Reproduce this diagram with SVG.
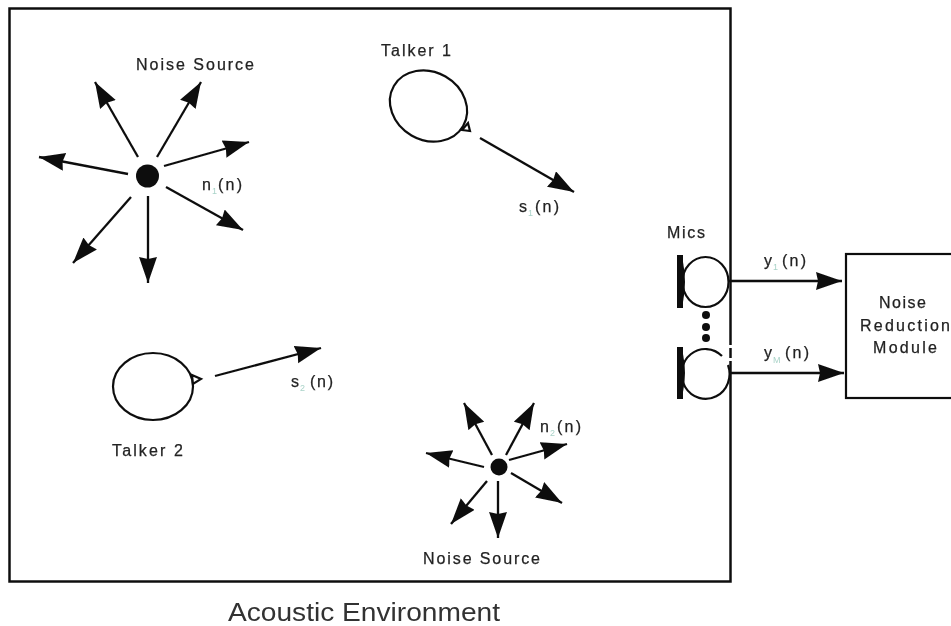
<svg xmlns="http://www.w3.org/2000/svg" width="951" height="626" viewBox="0 0 951 626">
<style>
text{font-family:"Liberation Sans",Arial,sans-serif;fill:#222;font-size:16px;stroke:#222;stroke-width:.25}
.sub{font-size:9px;fill:#a9d3c8;stroke:none}
.big{font-size:26px;fill:#333;stroke:none}
.ln{fill:none;stroke:#111;stroke-width:2.2}
.shape{fill:#fff;stroke:#111;stroke-width:2.2}
.arr{fill:none;stroke:#111;stroke-width:2.3;marker-end:url(#ah)}
.solid{fill:#111;stroke:none}
</style>
<defs>
<marker id="ah" markerUnits="userSpaceOnUse" markerWidth="30" markerHeight="22" refX="26" refY="9" orient="auto"><path d="M0 0L26 9L0 18L2 9Z" fill="#111"/></marker>
<filter id="soft" x="-2%" y="-2%" width="104%" height="104%"><feGaussianBlur stdDeviation="0.5"/></filter>
</defs>
<rect width="951" height="626" fill="#fff"/>
<g filter="url(#soft)">
<g id="environment">
<rect x="9.500" y="8.500" width="721" height="573" fill="none" stroke="#111" stroke-width="2.500"/>
<path d="M731 345v3M731 358v3" stroke="#fff" stroke-width="4" fill="none"/>
<text class="big" x="228" y="620.500" textLength="272" lengthAdjust="spacingAndGlyphs">Acoustic Environment</text>
</g>
<g id="noise-source-1">
<circle class="solid" cx="147.500" cy="176" r="11.500"/>
<text x="136" y="70" textLength="118">Noise Source</text>
<text x="202" y="190">n</text><text class="sub" x="212" y="194">1</text><text x="218" y="190" textLength="24">(n)</text>
</g>
<g id="talker-1">
<ellipse class="shape" cx="428.500" cy="106" rx="40" ry="34" transform="rotate(30 428.500 106)"/>
<path class="shape" d="M462 130L468 123L470 131Z" stroke-width="1.500"/>
<text x="381" y="56" textLength="70">Talker 1</text>
<text x="519" y="212">s</text><text class="sub" x="528" y="216">1</text><text x="535" y="212" textLength="24">(n)</text>
</g>
<g id="talker-2">
<ellipse class="shape" cx="153" cy="386.500" rx="40" ry="33.500"/>
<path class="shape" d="M192 375L201 379L193 384Z" stroke-width="1.500"/>
<text x="112" y="456" textLength="71">Talker 2</text>
<text x="291" y="387">s</text><text class="sub" x="300" y="391">2</text><text x="310" y="387" textLength="23">(n)</text>
</g>
<g id="noise-source-2">
<circle class="solid" cx="499" cy="467" r="8.500"/>
<text x="423" y="564" textLength="117">Noise Source</text>
<text x="540" y="432">n</text><text class="sub" x="550" y="436">2</text><text x="557" y="432" textLength="24">(n)</text>
</g>
<g id="mics">
<path class="solid" d="M677 255h6v53h-6ZM677 347h6v52h-6Z"/>
<path class="solid" d="M683 262q4 20 0 40ZM683 354q4 19 0 38Z"/>
<ellipse class="ln" cx="705.500" cy="282" rx="23" ry="25"/>
<path class="ln" d="M691 354A24 25 0 0 1 722 356M728 365A24 25 0 1 1 691 354"/>
<circle class="solid" cx="706" cy="315" r="4"/><circle class="solid" cx="706" cy="327" r="4"/><circle class="solid" cx="706" cy="338" r="4"/>
<text x="667" y="238" textLength="38">Mics</text>
</g>
<g id="noise-reduction-module">
<rect x="846" y="254" width="120" height="144" fill="#fff" stroke="#111" stroke-width="2.200"/>
<text x="879" y="308" textLength="47">Noise</text>
<text x="860" y="331" textLength="90">Reduction</text>
<text x="873" y="353" textLength="64">Module</text>
</g>
<g id="connectors">
<path class="arr" d="M138 157L95 82"/><path class="arr" d="M157 157L201 82"/><path class="arr" d="M164 166L249 142"/><path class="arr" d="M166 187L243 230"/><path class="arr" d="M148 196L148 283"/><path class="arr" d="M131 197L73 263"/><path class="arr" d="M128 174L39 157"/>
<path class="arr" d="M480 138L574 192"/><path class="arr" d="M215 376L321 348"/>
<path class="arr" d="M492 455L464 403"/><path class="arr" d="M506 455L534 403"/><path class="arr" d="M509 460L567 444"/><path class="arr" d="M511 473L562 503"/><path class="arr" d="M498 481L498 538"/><path class="arr" d="M487 481L451 524"/><path class="arr" d="M484 467L426 453"/>
<path class="arr" d="M728 281L842 281"/><path class="arr" d="M730 373L844 373"/>
</g>
<g id="output-labels">
<text x="764" y="266">y</text><text class="sub" x="773" y="270">1</text><text x="782" y="266" textLength="24">(n)</text>
<text x="764" y="358">y</text><text class="sub" x="773" y="363">M</text><text x="785" y="358" textLength="24">(n)</text>
</g>
</g>
</svg>
